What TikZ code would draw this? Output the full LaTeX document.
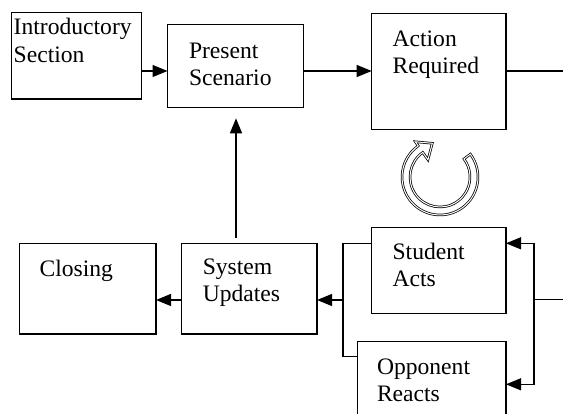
\documentclass[tikz,border=0pt]{standalone}
\usepackage{fontspec}
\setmainfont{Liberation Serif}
\usetikzlibrary{arrows.meta,calc}
\begin{document}
\begin{tikzpicture}[x=1pt,y=-1pt,
  box/.style={draw=black, line width=1.2pt, inner sep=0pt, outer sep=0pt, fill=white},
  lbl/.style={inner sep=0pt, outer sep=0pt, anchor=base west, align=left,
    font=\fontsize{23.6}{27.5}\selectfont},
  conn/.style={draw=black, line width=1.2pt},
  arr/.style={conn, -{Triangle[length=15pt,width=12pt]}}]
\clip (0,0) rectangle (563,414);
\fill[white] (0,0) rectangle (563,414);
% boxes
\node[box, minimum width=130pt, minimum height=86.3pt] (intro) at (76.5,55.85) {};
\node[box, minimum width=135.8pt, minimum height=83pt] (present) at (235.4,65.8) {};
\node[box, minimum width=134.3pt, minimum height=116pt] (action) at (438.85,71.3) {};
\node[box, minimum width=136.2pt, minimum height=90.7pt] (closing) at (87.9,288.65) {};
\node[box, minimum width=135.5pt, minimum height=90.7pt] (system) at (249.3,288.65) {};
\node[box, minimum width=134.3pt, minimum height=86pt] (student) at (438.85,270.3) {};
\node[box, minimum width=148.3pt, minimum height=90pt] (opponent) at (431.85,386.7) {};
% texts
\node[lbl] (tintro) at (13.7,35) {Introductory};
\node[lbl] (tintro2) at (13.7,63) {Section};
\node[lbl] (tpres) at (189,58.3) {Present};
\node[lbl] (tpres2) at (189,85.5) {Scenario};
\node[lbl] (tact) at (392.6,46.7) {Action};
\node[lbl] (tact2) at (392.6,73.5) {Required};
\node[lbl] (tclos) at (39.6,276.7) {Closing};
\node[lbl] (tsys) at (202.8,275) {System};
\node[lbl] (tsys2) at (202.8,301.7) {Updates};
\node[lbl] (tstu) at (392.6,260) {Student};
\node[lbl] (tstu2) at (392.6,286.5) {Acts};
\node[lbl] (topp) at (377,375) {Opponent};
\node[lbl] (topp2) at (377,401.7) {Reacts};
% helper coordinates
\coordinate (r1) at (0,71);
\coordinate (outR) at (563,71);
\coordinate (vt) at (236,238);
\coordinate (lb) at (343,300);
\coordinate (rb) at (534,299.3);
\coordinate (inR) at (563,299.3);
\coordinate (ys) at (0,243.3);
\coordinate (yo) at (0,356.7);
\coordinate (yo2) at (0,384.3);
% connectors
\draw[arr] (intro.east |- r1) -- (present.west |- r1);
\draw[arr] (present.east |- r1) -- (action.west |- r1);
\draw[conn] (action.east |- r1) -- (outR);
\draw[arr] (vt) -- ($(present.south)+(0.6,11)$);
\draw[conn] (student.west |- ys) -| (lb) |- (opponent.west |- yo);
\draw[arr] (lb) -- (system.east |- lb);
\draw[arr] (system.west |- lb) -- (closing.east |- lb);
\draw[conn] (inR) -- (rb);
\draw[arr] (rb) |- (student.east |- ys);
\draw[arr] (rb) |- (opponent.east |- yo2);
% circular arrow
\begin{scope}[shift={(440,177)}, yscale=-1]
\draw[draw=black, line width=0.75pt, double=white, double distance=1pt, fill=white, line join=miter]
  (37:38) arc[start angle=37, end angle=-235, radius=38]
  -- (125:43) -- (-7.7,33.7) -- (125:21) -- (125:30)
  arc[start angle=-235, end angle=37, radius=30] -- cycle;
\end{scope}
\end{tikzpicture}
\end{document}
